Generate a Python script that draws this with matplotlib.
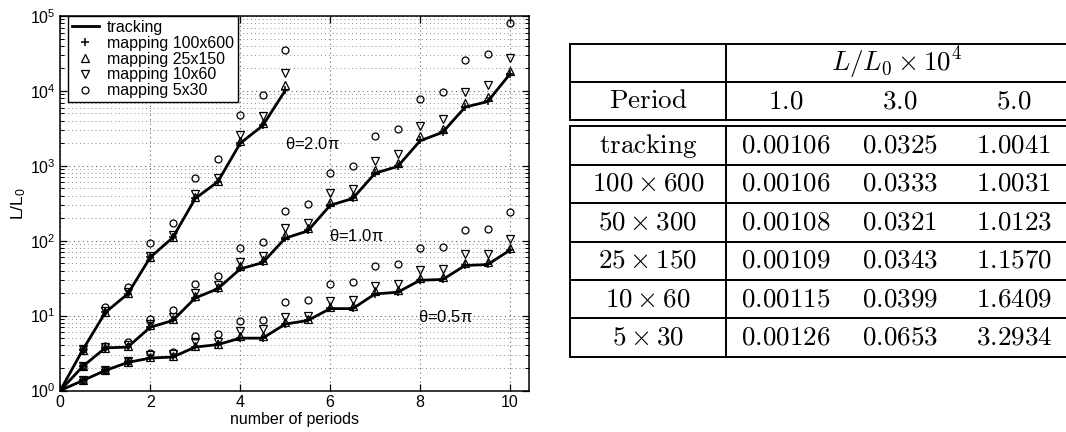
import matplotlib
matplotlib.use("Agg")
import matplotlib.pyplot as plt
from matplotlib.ticker import LogLocator, NullFormatter
from matplotlib.lines import Line2D

# ---- data ----
periods_x = [0, 0.5, 1, 1.5, 2, 2.5, 3, 3.5, 4, 4.5, 5,
             5.5, 6, 6.5, 7, 7.5, 8, 8.5, 9, 9.5, 10]

# theta = 2.0 pi (only up to 5 periods)
t20_tracking = [1, 3.5, 11, 19.5, 60, 110, 366, 611, 2000, 3440, 10100]
t20_m100 = [1, 3.5, 11, 19.5, 60, 111, 370, 615, 2010, 3460, 10200]
t20_m25 = [1, 3.5, 11.2, 19.8, 61, 113, 385, 635, 2150, 3700, 12000]
t20_m10 = [1, 3.6, 11.5, 20.5, 63, 118, 418, 690, 2580, 4590, 17300]
t20_m5 = [1, 3.6, 12.9, 24, 94, 172, 677, 1230, 4780, 8870, 34800]

# theta = 1.0 pi
t10_tracking = [1, 2.1, 3.7, 3.8, 7.0, 8.6, 17.2, 22.8, 42, 51, 108,
                135, 297, 366, 798, 980, 2160, 2800, 6070, 7200, 16900]
t10_m100 = [1, 2.1, 3.7, 3.8, 7.0, 8.7, 17.4, 23, 43, 52, 110,
            137, 300, 370, 805, 990, 2180, 2830, 6100, 7250, 17000]
t10_m25 = [1, 2.1, 3.75, 3.9, 7.4, 8.9, 18, 24, 46, 56, 120,
           150, 330, 400, 880, 1080, 2500, 3100, 6800, 8200, 18700]
t10_m10 = [1, 2.1, 3.8, 4.1, 7.8, 9.5, 20, 26, 52, 63, 149,
           174, 427, 487, 1167, 1436, 3440, 4230, 9800, 12000, 27500]
t10_m5 = [1, 2.1, 3.9, 4.5, 9.0, 11.7, 26.8, 33.6, 80, 97, 249,
          307, 791, 982, 2520, 3100, 7840, 9800, 25600, 31400, 81800]

# theta = 0.5 pi
t05_tracking = [1, 1.36, 1.85, 2.37, 2.71, 2.8, 3.8, 4.1, 5.0, 5.0, 7.7,
                8.6, 12.4, 12.4, 19.5, 20.5, 29.7, 30.3, 46.7, 48, 75]
t05_m100 = [1, 1.36, 1.85, 2.37, 2.72, 2.81, 3.82, 4.12, 5.05, 5.05, 7.8,
            8.7, 12.5, 12.5, 19.7, 20.7, 30, 30.6, 47, 48.5, 76]
t05_m25 = [1, 1.37, 1.87, 2.4, 2.8, 2.9, 3.95, 4.2, 5.3, 5.4, 8.2,
           9.1, 13.2, 13.3, 21, 22, 32, 32.7, 51, 52, 80]
t05_m10 = [1, 1.38, 1.9, 2.45, 2.95, 3.05, 4.4, 4.5, 6.3, 6.6, 9.6,
           10, 15.7, 16.4, 25.2, 26.6, 40.5, 41.3, 65.6, 65.6, 104]
t05_m5 = [1, 1.38, 1.9, 2.45, 3.16, 3.26, 5.4, 5.74, 8.6, 8.8, 15.1,
          16.4, 26.6, 27.9, 45.8, 49.2, 79, 83, 139, 145, 245]

theta_labels = [r"$\theta$=2.0$\pi$", r"$\theta$=1.0$\pi$", r"$\theta$=0.5$\pi$"]
theta_label_x = [5.0, 5.97, 7.95]
theta_label_y = [1950, 115, 9.6]

# ---- table ----
table_cols = ["1.0", "3.0", "5.0"]
table_rows = ["tracking", r"100 \times 600", r"50 \times 300",
              r"25 \times 150", r"10 \times 60", r"5 \times 30"]
col_p1 = ["0.00106", "0.00106", "0.00108", "0.00109", "0.00115", "0.00126"]
col_p3 = ["0.0325", "0.0333", "0.0321", "0.0343", "0.0399", "0.0653"]
col_p5 = ["1.0041", "1.0031", "1.0123", "1.1570", "1.6409", "3.2934"]

plt.rcParams['font.family'] = ['Liberation Sans', 'DejaVu Sans']
plt.rcParams['mathtext.fontset'] = 'custom'
plt.rcParams['mathtext.rm'] = 'Liberation Sans'
plt.rcParams['mathtext.it'] = 'Liberation Sans:italic'
plt.rcParams['mathtext.default'] = 'rm'

W, H = 1066, 432
fig = plt.figure(figsize=(W / 100, H / 100), dpi=100)

# table drawn in pixel coordinates
tab = fig.add_axes([0, 0, 1, 1])
tab.set_xlim(0, W)
tab.set_ylim(H, 0)
tab.axis("off")

ax = fig.add_axes([60.3 / W, 41.5 / H, 468.7 / W, 374.5 / H])

groups = [
    (periods_x[:len(t20_tracking)], t20_tracking, t20_m100, t20_m25, t20_m10, t20_m5),
    (periods_x, t10_tracking, t10_m100, t10_m25, t10_m10, t10_m5),
    (periods_x, t05_tracking, t05_m100, t05_m25, t05_m10, t05_m5),
]
for xs, trk, m100, m25, m10, m5 in groups:
    ax.plot(xs, trk, color="k", lw=2.0, zorder=3)
    ax.plot(xs, m100, "k+", ms=6, mew=1.1, zorder=4)
    ax.plot(xs, m25, "^", mfc="none", mec="k", ms=5.5, mew=0.9, zorder=4)
    ax.plot(xs, m10, "v", mfc="none", mec="k", ms=5.5, mew=0.9, zorder=4)
    ax.plot(xs, m5, "o", mfc="none", mec="k", ms=5, mew=0.9, zorder=4)

for lab, tx, ty in zip(theta_labels, theta_label_x, theta_label_y):
    ax.text(tx, ty, lab, fontsize=12, ha="left", va="center")

ax.set_yscale("log")
ax.set_ylim(1, 1e5)
ax.set_xlim(0, 10.42)
ax.set_xticks([0, 2, 4, 6, 8, 10])
ax.yaxis.set_major_locator(LogLocator(base=10, numticks=10))
ax.yaxis.set_minor_locator(LogLocator(base=10, subs=range(2, 10), numticks=20))
ax.yaxis.set_minor_formatter(NullFormatter())
ax.tick_params(which="both", direction="in", top=True, right=True, labelsize=11.5)
ax.tick_params(which="major", length=5, width=0.9)
ax.tick_params(which="minor", length=3, width=0.7)
ax.grid(True, which="major", linestyle=(0, (1, 3)), color="k", lw=0.8, alpha=0.6)
ax.grid(True, which="minor", axis="y", linestyle=(0, (1, 3)), color="k", lw=0.7, alpha=0.45)
for sp in ax.spines.values():
    sp.set_linewidth(1.1)
ax.set_xlabel("number of periods", fontsize=11.5, labelpad=1)
ax.set_ylabel(r"L/L$_0$", fontsize=12.5, labelpad=1)

handles = [
    Line2D([], [], color="k", lw=2.0),
    Line2D([], [], ls="none", marker="+", color="k", ms=6, mew=1.1),
    Line2D([], [], ls="none", marker="^", mfc="none", mec="k", ms=5.5, mew=0.9),
    Line2D([], [], ls="none", marker="v", mfc="none", mec="k", ms=5.5, mew=0.9),
    Line2D([], [], ls="none", marker="o", mfc="none", mec="k", ms=5, mew=0.9),
]
labels = ["tracking", "mapping 100x600", "mapping 25x150",
          "mapping 10x60", "mapping 5x30"]
leg = ax.legend(handles, labels, loc="upper left", bbox_to_anchor=(0.016, 1.0),
                borderaxespad=0, fontsize=11.5, labelspacing=0.05,
                handlelength=1.7, handletextpad=0.5, borderpad=0.25,
                fancybox=False, framealpha=1, edgecolor="k")
leg.get_frame().set_linewidth(1.0)
leg.set_zorder(6)

# ---- table layout (pixels) ----
x_left, x_sep, x_right = 570, 726, 1080
head_top, row_h, body_top = 43.5, 38.4, 126.3
col_x = [786, 900, 1014]
lw_t = 1.4
fs_t = 19.5

# header block
for i in range(3):
    yy = head_top + i * row_h
    tab.plot([x_left, x_right], [yy, yy], color="k", lw=lw_t, solid_capstyle="butt")
for xv in (x_left, x_sep):
    tab.plot([xv, xv], [head_top, head_top + 2 * row_h], color="k", lw=lw_t)

tab.text((x_sep + x_right - 12) / 2, head_top + row_h / 2 + 1,
         r"$\mathit{L}/\mathit{L}_0 \times 10^4$",
         fontsize=fs_t, ha="center", va="center", math_fontfamily="cm")
tab.text((x_left + x_sep) / 2, head_top + 1.5 * row_h, r"$\mathrm{Period}$",
         fontsize=fs_t, ha="center", va="center", math_fontfamily="cm")
for cx, c in zip(col_x, table_cols):
    tab.text(cx, head_top + 1.5 * row_h, "$" + c + "$", fontsize=fs_t,
             ha="center", va="center", math_fontfamily="cm")

# body block
for i in range(len(table_rows) + 1):
    yy = body_top + i * row_h
    tab.plot([x_left, x_right], [yy, yy], color="k", lw=lw_t, solid_capstyle="butt")
for xv in (x_left, x_sep):
    tab.plot([xv, xv], [body_top, body_top + len(table_rows) * row_h], color="k", lw=lw_t)

for i, lab in enumerate(table_rows):
    cy = body_top + (i + 0.5) * row_h
    txt = r"$\mathrm{" + lab + "}$" if lab == "tracking" else "$" + lab + "$"
    tab.text((x_left + x_sep) / 2, cy, txt, fontsize=fs_t, ha="center",
             va="center", math_fontfamily="cm")
    for cx, col in zip(col_x, (col_p1, col_p3, col_p5)):
        tab.text(cx, cy, "$" + col[i] + "$", fontsize=fs_t, ha="center",
                 va="center", math_fontfamily="cm")

fig.savefig("out.png", dpi=100)
